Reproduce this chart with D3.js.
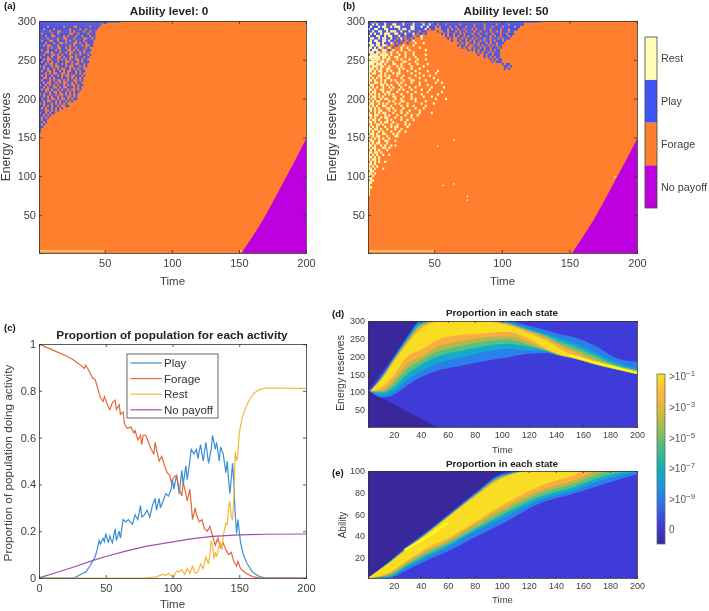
<!DOCTYPE html>
<html>
<head>
<meta charset="utf-8">
<script src="https://cdn.jsdelivr.net/npm/d3@7"></script>
<style>
  html, body { margin: 0; padding: 0; background: #fff; }
  svg { filter: blur(0.4px); }
  text { font-family: "Liberation Sans", Arial, sans-serif; }
</style>
</head>
<body>
<svg id="chart" width="709" height="611"></svg>
<script>
// ---------- data ----------
const actionNames = ["No payoff", "Forage", "Play", "Rest"];
const actionColors = ["#bd00dd", "#ff7f2e", "#3d55f2", "#fffdb8"];

const noPayoffEdge = [[152, 1], [160, 22], [168, 44], [176, 69], [184, 95], [192, 121], [200, 148]];
const restStrip = [1, 50, 2, 5];
const playStripA = [1, 62, 298, 300];
const playStripB = [1, 128, 298, 300];
const rareRestA = [[151, 3]];
const rareRestB = [[52, 138], [64, 146], [56, 87], [64, 89], [74, 73], [74, 68], [183, 98]];

// speckle, one string per energy row (3 units each, top = 300), one char per 1.5 time units
// # play, o rest, . forage
const speckleA = [
  "##################################",
  "###############################",
  "####.#######.####..######.####.",
  "##.####.#######.####.##.#####.",
  "#####.###..####.#.####.##.##",
  "#.####.##.#####..##.####.###",
  "###.##..####.#.###.##.###.##",
  "####.####.##..###.####..##.#",
  "#.###..##.###.#.##.###.####",
  "###.###.##..#.###..#.##.###",
  "##.#..###.#####.#.###.#..##",
  "####.#.##..##.#.##.####.#",
  "#.##.###.#.###..#.#.##.###",
  "###..#.###.##.#..###.#.##.",
  "##.###..#.#.###.##.#.###.#",
  ".###.#.##..#.##..#.###.##",
  "##.#..###.#.#.#.##..#.##.",
  "#.##.#.##.###..#.##.#.###",
  "###.#..#.##.#.##.#..##.#",
  ".#.###.#..###.#..###.#.#",
  "##.#.##.#.#..##.#.#.##.",
  "#.##..#.##.#.#..##.#.##",
  "###.#.#..##..#.###.#.#",
  "#.#.##.##.#.#..#..###.#",
  "##..#.#.###.##.#.#.#.#",
  "#.###.#.#..#.#.##..#.#",
  "##.#..##.#.#..##.#.##.",
  ".##.#.#.#.##.#.#..#.##",
  "##.#.##..#.#..###.#.#",
  "#.#..#.##.#.##.#..#.#",
  "###.#.#..#.##.#.#.##",
  ".#.##.##.#..#.#.#.#",
  "##.#.#.##.#.##..#.#",
  "#.##.#..#.#..#.#.##",
  "##.#..##.#.##.#.#.",
  ".#.###.#.#.#.#..",
  "##.#.#.##.#..##",
  "#.#.##.#.#.#",
  "###..#.#.#",
  ".##.#.##",
  "##.#.#",
  "#.#.#.",
  "#.##",
  "##.#",
  "#.#",
  "##",
  "#.",
  "#"
];
const speckleB = [
  "###o####o########o####o###o#####o############################################",
  "##o#o###o###oo###o####o####o##o###.###.######.######.####.#####.#####.#######",
  "#o###o#oo##o#ooo#####oo###o##o###.#.####.##.####.###.####.###.####.#####.##",
  "o##oo###oo#####o#oo##oo#####o#.##...###.#.##.##.###.#.###.##.####.###.####",
  "##o##oo##o#ooo##o###o####.###.....#..##.###.#.##.###.##.####.##.#.###.##.",
  "#o#o##o#ooo##oo###o###o#.##.#.......#.#.##.##.#.###.##.###.##.###.##.###",
  "o###oo##o#oo###o##.###..#.o...........#.##.#.##.#.##.##.####.#.##.###.#",
  "#oo##o#oo##o##.#o#.##.#...o............#.#..##.#.##.#.###.##.###.#.###",
  "#o#oo##oo#o##.##.#..#.o..................#..#.##.#.#.##.#.##.#.###.#",
  "oo##oo#o###o.#.##..#...o...o.................#.#..##.#.###.#.##.###",
  "#oo#oo#oo.#..##..o....o.....................#.##.#..##.#.##.#.#.##",
  "oo#o#oo.#.o.#...o..o.....o....................#.#..#.##.#.##.###.#",
  "o#ooo#.oo.#.o...o...o.......o....................#.#.#.##.##.#.##",
  "ooo#oo.oo..o..o...o...o..............................#.#.##.#.###",
  "#oooo.oooo.o...o..o...o.....o.........................#..#.##.###",
  "oooooo.oo.o..oo...o....o.................................#.#.#.##",
  "oooooo.o.oo...o.o...o...o...o...............................#.#.##",
  "ooooo.oo.o..o....oo....o.....................................#.###",
  "ooo.ooo.o...oo..o...o...o....o....................................#.##",
  "o.ooo.oo..o...o.o....o.....o.......................................##.#",
  "ooo.o.o..oo....o.o...o...o.........................................#.#",
  "oo.o.oo..o.o...o...o...o.....o....o",
  "o.oo..o.o...o.oo.....o...o.......o",
  "oo...oo.o.o...o..o.....o...o..o",
  "o.o.o.o..oo.....o...o....o......o",
  "oo.o..o.o..o.o...o...oo.....o.....o",
  "o..oo.o.o.....o.o....o...o.......o..o",
  ".oo...oo.o.o...o..o......o...o",
  "o.o.o..o..o.o...o...o..o.......o.....o",
  "oo.o..oo...o...o.o...o....o...o",
  "o.oo...o.oo...o....o...o.....o......o",
  ".o.o.o..o.o.o...o....o....o.......o",
  "o.oo.o.o....oo...o...o.....o...o",
  "oo.o..o.oo...o..o....o.o.........o....o",
  "o.o.oo....o.o...oo.....o....o",
  ".oo..o.o.o...o.o...o......o.....o",
  "o.o.o..oo..o....o..o..o.....o",
  "oo.o.o...oo.o....o.....o...o",
  ".o.o.oo...o..o..o...o....o",
  "o..o.o.oo...o...o..o.....o.....o",
  "oo.oo...o.o...o...o..o..o",
  ".o.o..o.oo...o..o....o",
  "o.oo.o...o.o....o..o..o",
  "oo.o..o.oo..o.....o",
  ".o..oo.o...o..o...o.o",
  "o.o.o...o..o.oo....o",
  "oo.oo.o..o...o..o",
  "o.o..o.o...o...o..o",
  ".oo.o..oo...o.o",
  "o.o.oo...o...oo",
  "oo.o.o.o..o...",
  ".oo..o..oo...o",
  "o.o.oo...o",
  "oo.o..o.o..o.o",
  "o.oo...oo.o",
  ".o.o.o...o",
  "oo.oo.o..",
  "o.o.o..o..o",
  "oo.o.o",
  "o.oo.o",
  ".o.o.o..o",
  "oo.o..",
  "o.o.o",
  "oo.o...o",
  ".oo.",
  "oo.o",
  "o.o.",
  "oo.",
  ".oo",
  "oo",
  "o.",
  "oo",
  "o",
  "o",
  "o"
];

// panel c, [time, proportion]
const playSeries = [[0,0],[25,0],[28,.005],[30,.012],[33,.02],[35,.025],[38,.05],[40,.07],[42,.09],[44,.13],[45,.16],[46,.145],[48,.17],[49,.155],[50,.19],[52,.15],[53,.18],[55,.15],[57,.21],[58,.16],[60,.2],[61,.17],[63,.25],[65,.24],[67,.25],[70,.23],[72,.27],[74,.25],[76,.31],[77,.26],[79,.27],[81,.29],[83,.26],[85,.31],[87,.34],[88,.29],[90,.34],[91,.3],[93,.33],[95,.36],[97,.35],[99,.38],[100,.42],[101,.38],[103,.44],[105,.36],[107,.46],[108,.4],[110,.48],[111,.42],[113,.5],[114,.55],[116,.53],[118,.55],[119,.51],[121,.57],[123,.5],[125,.58],[127,.49],[129,.55],[130,.61],[132,.55],[133,.58],[135,.5],[136,.56],[138,.53],[140,.45],[141,.5],[142,.42],[143,.36],[145,.49],[146,.4],[147,.27],[148,.19],[149,.25],[150,.2],[151,.15],[153,.1],[156,.06],[160,.025],[165,.006],[170,0],[200,0]];
const forageSeries = [[0,1],[10,.975],[20,.95],[25,.935],[30,.915],[34,.895],[35,.91],[38,.88],[40,.855],[42,.85],[44,.81],[46,.77],[48,.755],[49,.775],[50,.76],[52,.73],[53,.72],[55,.75],[57,.76],[58,.72],[60,.74],[61,.7],[63,.71],[64,.66],[66,.64],[69,.645],[71,.62],[72,.63],[74,.59],[75,.6],[76,.61],[77,.57],[78,.61],[80,.61],[82,.58],[84,.55],[86,.53],[87,.58],[88,.55],[90,.5],[92,.52],[94,.48],[96,.45],[98,.44],[99,.41],[101,.43],[103,.44],[105,.38],[107,.35],[108,.41],[110,.36],[111,.33],[113,.38],[115,.25],[117,.3],[118,.27],[120,.24],[122,.25],[124,.21],[126,.2],[128,.22],[130,.18],[132,.14],[134,.17],[136,.13],[138,.15],[140,.12],[142,.1],[144,.11],[146,.07],[148,.05],[149,.07],[151,.04],[155,.02],[160,.006],[165,0],[200,0]];
const restSeries = [[0,0],[75,0],[80,.001],[88,.005],[90,.01],[93,.015],[95,.01],[97,.02],[99,.01],[101,.005],[103,.03],[105,.025],[107,.035],[109,.015],[111,.04],[113,.02],[115,.05],[117,.02],[119,.025],[121,.06],[123,.04],[125,.09],[127,.06],[128,.1],[129,.16],[130,.14],[131,.08],[132,.11],[133,.09],[135,.14],[136,.15],[137,.12],[138,.18],[140,.235],[141,.23],[142,.3],[143,.33],[144,.26],[145,.25],[146,.35],[147,.54],[148,.5],[149,.53],[150,.62],[152,.68],[155,.73],[158,.765],[161,.79],[165,.805],[170,.812],[200,.81]];
const noPayoffSeries = [[0,0],[10,.018],[25,.045],[40,.074],[50,.092],[65,.115],[80,.135],[100,.154],[115,.168],[130,.178],[150,.184],[170,.187],[200,.188]];
const legendNames = ["Play", "Forage", "Rest", "No payoff"];
const lineColors = ["#3a8fd4", "#e2683c", "#f3b83c", "#9b50b2"];

// panel d, energy bounds of each colour band at dTimes
const dTimes = [3, 12, 20, 30, 40, 52, 66, 84, 104, 118, 133, 141, 153, 168, 185, 200];
const dBase = [[1, 103], [39, 300], [200, 300], [200, 1], [52, 1]];
const dBlueUpper = [105, 150, 197, 255, 300, 300, 300, 300, 300, 288, 274, 265, 255, 232, 195, 185];
const dBlueLower = [100, 84, 92, 118, 141, 160, 171, 185, 197, 207, 210, 203, 194, 178, 162, 150];
const dTealUpper = [105, 148, 194, 250, 296, 300, 300, 300, 296, 281, 264, 253, 238, 213, 182, 165];
const dTealLower = [100, 91, 101, 133, 157, 180, 194, 210, 222, 218, 214, 204, 195, 179, 163, 150];
const dGreenUpper = [105, 146, 192, 246, 291, 300, 300, 300, 294, 277, 259, 246, 229, 204, 176, 162];
const dGreenLower = [101, 98, 113, 150, 175, 199, 213, 227, 236, 229, 216, 205, 195, 179, 163, 151];
const dOliveUpper = [104, 144, 190, 243, 287, 300, 300, 300, 292, 275, 255, 239, 220, 197, 173, 160];
const dOliveLower = [102, 101, 124, 165, 188, 213, 227, 241, 248, 236, 217, 206, 195, 179, 164, 151];
const dOrangeUpper = [104, 142, 188, 240, 284, 300, 300, 300, 292, 274, 250, 235, 213, 190, 171, 158];
const dOrangeLower = [102, 105, 134, 178, 199, 227, 241, 253, 257, 244, 219, 207, 195, 179, 164, 151];
const dYellowUpper = [103, 139, 183, 236, 276, 297, 300, 300, 288, 269, 244, 227, 201, 186, 170, 156];
const dYellowLower = [103, 115, 147, 199, 218, 246, 259, 264, 270, 254, 222, 208, 196, 180, 164, 151];
const dStreak = [[150, 204], [168, 184], [185, 168], [200, 153]];

// panel e, ability bounds of each colour band at eTimes
const eTimes = [1, 17, 29, 44, 59, 79, 100, 128, 153, 178, 200];
const eBase = [[1, 1], [17, 17], [29, 30], [44, 44], [59, 59], [79, 79], [89, 88], [100, 98], [106, 100], [200, 100], [200, 1]];
const eBlueUpper = [1, 16, 29, 43, 58, 78, 97, 101, 101, 101, 101];
const eBlueLower = [1, 1, 8, 17, 25, 38, 51, 70, 79, 89, 97];
const eTealUpper = [1, 16, 28, 42, 57, 77, 96, 101, 101, 101, 101];
const eTealLower = [1, 2, 10, 20, 29, 43, 56, 73, 82, 93, 99];
const eGreenUpper = [1, 16, 28, 42, 57, 77, 95, 101, 101, 101, 101];
const eGreenLower = [1, 3, 12, 22, 31, 45, 59, 76, 85, 96, 100];
const eOliveUpper = [1, 15, 28, 42, 57, 76, 95, 101, 101, 101, 101];
const eOliveLower = [1, 4, 13, 24, 33, 47, 62, 79, 88, 99, 101];
const eOrangeUpper = [1, 15, 27, 41, 56, 76, 94, 101, 101, 101, 101];
const eOrangeLower = [1, 5, 15, 26, 35, 50, 65, 82, 91, 102, 102];
const eYellowUpper = [1, 15, 27, 41, 56, 75, 93, 101, 101, 101, 101];
const eYellowLower = [1, 6, 16, 28, 37, 52, 68, 86, 96, 110, 110];
const eStreak = [[28, 27], [45, 39], [60, 52]];

const bandColors = ["#2b7fea", "#14aacb", "#55c183", "#b4b84a", "#f9ae3f", "#f9dd22"];
const parulaStops = ["#39289b", "#3f3bd8", "#2f6cea", "#1b96df", "#10b0b8", "#3dbd8c", "#8fbf55", "#d8b93c", "#fbb83a", "#f9e01f"];
const powerLabels = ["-1", "-3", "-5", "-7", "-9"];

// ---------- page layout ----------
const svg = d3.select("#chart");
const inkGray = "#404040";
let clipCount = 0;

function makeScales(box, xDomain, yDomain) {
  return {
    x: d3.scaleLinear().domain(xDomain).range([box.left, box.right]),
    y: d3.scaleLinear().domain(yDomain).range([box.bottom, box.top])
  };
}

function clipFor(box) {
  const id = "clip" + (clipCount++);
  svg.append("clipPath").attr("id", id).append("rect")
    .attr("x", box.left).attr("y", box.top)
    .attr("width", box.right - box.left).attr("height", box.bottom - box.top);
  return svg.append("g").attr("clip-path", `url(#${id})`);
}

// Matlab style box: ticks point inward on all four sides, labels left and bottom only
function drawBox(box, s, xTicks, yTicks, fontSize, tick, yFormat) {
  const bottom = d3.axisBottom(s.x).tickValues(xTicks).tickSize(-tick).tickPadding(fontSize * 0.55).tickFormat(d => d);
  const top = d3.axisTop(s.x).tickValues(xTicks).tickSize(-tick).tickFormat("");
  const left = d3.axisLeft(s.y).tickValues(yTicks).tickSize(-tick).tickPadding(3).tickFormat(yFormat || (d => d));
  const right = d3.axisRight(s.y).tickValues(yTicks).tickSize(-tick).tickFormat("");
  const parts = [
    svg.append("g").attr("transform", `translate(0,${box.bottom})`).call(bottom),
    svg.append("g").attr("transform", `translate(0,${box.top})`).call(top),
    svg.append("g").attr("transform", `translate(${box.left},0)`).call(left),
    svg.append("g").attr("transform", `translate(${box.right},0)`).call(right)
  ];
  parts.forEach(g => {
    g.selectAll("path,line").attr("stroke", "#333").attr("stroke-width", 0.8);
    g.selectAll("text").attr("fill", inkGray).style("font-size", fontSize + "px").style("font-family", '"Liberation Sans", Arial, sans-serif');
  });
}

function label(txt, x, y, size, opts) {
  opts = opts || {};
  const t = svg.append("text").attr("x", x).attr("y", y).text(txt)
    .style("font-size", size + "px").attr("fill", opts.fill || inkGray)
    .attr("text-anchor", opts.anchor || "middle")
    .attr("font-weight", opts.bold ? "bold" : "normal");
  if (opts.rotate) t.attr("transform", `rotate(-90 ${x} ${y})`);
  return t;
}

// ---------- panels a and b ----------
function drawPolicy(box, speckle, playStrip, rareRest) {
  const s = makeScales(box, [1, 200], [1, 300]);
  const g = clipFor(box);
  const color = d3.scaleOrdinal().domain(actionNames).range(actionColors);
  const stripRect = (st, fill) => g.append("rect")
    .attr("x", s.x(st[0])).attr("width", s.x(st[1]) - s.x(st[0]))
    .attr("y", s.y(st[3])).attr("height", s.y(st[2]) - s.y(st[3])).attr("fill", fill);

  g.append("rect").attr("x", box.left).attr("y", box.top)
    .attr("width", box.right - box.left).attr("height", box.bottom - box.top).attr("fill", color("Forage"));

  speckle.forEach((row, r) => {
    row.split("").forEach((ch, c) => {
      if (ch === ".") return;
      const t = 1 + c * 1.5, e = 300 - r * 3;
      g.append("rect").attr("x", s.x(t)).attr("y", s.y(e))
        .attr("width", s.x(t + 1.5) - s.x(t)).attr("height", s.y(e - 3) - s.y(e))
        .attr("fill", ch === "#" ? color("Play") : color("Rest"));
    });
  });

  stripRect(playStrip, color("Play"));
  stripRect(restStrip, "#ffb45e");
  rareRest.forEach(d => stripRect([d[0], d[0] + 1, d[1], d[1] + 2], color("Rest")));

  const edge = d3.area().x(d => s.x(d[0])).y0(s.y(1)).y1(d => s.y(d[1]));
  g.append("path").datum(noPayoffEdge).attr("d", edge).attr("fill", color("No payoff"));

  drawBox(box, s, [50, 100, 150, 200], [50, 100, 150, 200, 250, 300], 11, 3);
}

const boxA = { left: 39, right: 306, top: 21, bottom: 253 };
const boxB = { left: 368, right: 637, top: 21, bottom: 253 };
drawPolicy(boxA, speckleA, playStripA, rareRestA);
drawPolicy(boxB, speckleB, playStripB, rareRestB);

label("Ability level: 0", 169, 15, 11.7, { fill: "#222", bold: true });
label("Ability level: 50", 506, 15, 11.7, { fill: "#222", bold: true });
label("Time", 172.5, 285, 11.5);
label("Time", 502.5, 285, 11.5);
label("Energy reserves", 10, 137, 12.2, { rotate: true });
label("Energy reserves", 336, 137, 12.2, { rotate: true });
label("(a)", 4, 9, 9.5, { fill: "#111", bold: true, anchor: "start" });
label("(b)", 343, 9, 9.5, { fill: "#111", bold: true, anchor: "start" });

// category colour bar
const catBox = { left: 645, right: 657, top: 37, bottom: 208 };
const catScale = d3.scaleBand().domain(actionNames).range([catBox.bottom, catBox.top]);
svg.append("g").selectAll("rect").data(actionNames).enter().append("rect")
  .attr("x", catBox.left).attr("width", catBox.right - catBox.left)
  .attr("y", d => catScale(d)).attr("height", catScale.bandwidth())
  .attr("fill", (d, i) => actionColors[i]);
svg.append("rect").attr("x", catBox.left).attr("y", catBox.top)
  .attr("width", catBox.right - catBox.left).attr("height", catBox.bottom - catBox.top)
  .attr("fill", "none").attr("stroke", "#444").attr("stroke-width", 0.8);
actionNames.forEach(d => label(d, 661, catScale(d) + catScale.bandwidth() / 2 + 4, 10.8, { anchor: "start" }));

// ---------- panel c ----------
const boxC = { left: 39, right: 306, top: 344, bottom: 578 };
const scaleC = makeScales(boxC, [0, 200], [0, 1]);
const lineC = d3.line().x(d => scaleC.x(d[0])).y(d => scaleC.y(d[1]));
const groupC = clipFor(boxC);
[playSeries, forageSeries, restSeries, noPayoffSeries].forEach((series, i) => {
  groupC.append("path").datum(series).attr("d", lineC).attr("fill", "none")
    .attr("stroke", lineColors[i]).attr("stroke-width", 1.2);
});
drawBox(boxC, scaleC, [0, 50, 100, 150, 200], [0, 0.2, 0.4, 0.6, 0.8, 1], 11, 3);
label("Proportion of population for each activity", 172, 339, 11.8, { fill: "#222", bold: true });
label("Time", 172.5, 608, 11.5);
label("Proportion of population doing activity", 12, 463, 11.8, { rotate: true });
label("(c)", 4, 331, 9.5, { fill: "#111", bold: true, anchor: "start" });

const legendBox = svg.append("g");
legendBox.append("rect").attr("x", 127).attr("y", 354).attr("width", 91).attr("height", 64)
  .attr("fill", "#fff").attr("stroke", "#444").attr("stroke-width", 0.8);
legendNames.forEach((name, i) => {
  const y = 363 + i * 15.6;
  legendBox.append("line").attr("x1", 130.5).attr("x2", 161.7).attr("y1", y).attr("y2", y)
    .attr("stroke", lineColors[i]).attr("stroke-width", 1.2);
  legendBox.append("text").attr("x", 164).attr("y", y + 4).text(name)
    .attr("fill", "#333").style("font-size", "11.5px");
});

// ---------- panels d and e ----------
function drawStates(box, yMax, yTicks, base, times, bands, streak) {
  const s = makeScales(box, [1, 200], [1, yMax]);
  const g = clipFor(box);
  g.append("rect").attr("x", box.left).attr("y", box.top)
    .attr("width", box.right - box.left).attr("height", box.bottom - box.top).attr("fill", parulaStops[0]);
  const edge = d3.line().x(d => s.x(d[0])).y(d => s.y(d[1]));
  g.append("path").datum(base).attr("d", edge).attr("fill", parulaStops[1]);

  bands.forEach((band, i) => {
    const area = d3.area().curve(d3.curveMonotoneX)
      .x((d, j) => s.x(times[j])).y0((d, j) => s.y(band[1][j])).y1((d, j) => s.y(band[0][j]));
    g.append("path").datum(times).attr("d", area).attr("fill", bandColors[i]);
  });
  g.append("path").datum(streak).attr("d", edge).attr("fill", "none")
    .attr("stroke", "#ffff18").attr("stroke-width", 2);

  drawBox(box, s, d3.range(20, 201, 20), yTicks, 9, 2);
}

const boxD = { left: 368, right: 637, top: 321, bottom: 427 };
const boxE = { left: 368, right: 637, top: 471, bottom: 578 };
drawStates(boxD, 300, [50, 100, 150, 200, 250, 300], dBase, dTimes, [
  [dBlueUpper, dBlueLower], [dTealUpper, dTealLower], [dGreenUpper, dGreenLower],
  [dOliveUpper, dOliveLower], [dOrangeUpper, dOrangeLower], [dYellowUpper, dYellowLower]
], dStreak);
drawStates(boxE, 100, [20, 40, 60, 80, 100], eBase, eTimes, [
  [eBlueUpper, eBlueLower], [eTealUpper, eTealLower], [eGreenUpper, eGreenLower],
  [eOliveUpper, eOliveLower], [eOrangeUpper, eOrangeLower], [eYellowUpper, eYellowLower]
], eStreak);

label("Proportion in each state", 502, 316, 9.8, { fill: "#222", bold: true });
label("Proportion in each state", 502, 467, 9.8, { fill: "#222", bold: true });
label("Time", 502.5, 453, 9.5);
label("Time", 502.5, 603, 9.5);
label("Energy reserves", 344, 373, 10.4, { rotate: true });
label("Ability", 346, 525, 10, { rotate: true });
label("(d)", 332, 317, 9.5, { fill: "#111", bold: true, anchor: "start" });
label("(e)", 332, 476, 9.5, { fill: "#111", bold: true, anchor: "start" });

// continuous colour bar
const heatBar = { left: 657, right: 665, top: 374, bottom: 544 };
const grad = svg.append("linearGradient").attr("id", "parula")
  .attr("x1", 0).attr("x2", 0).attr("y1", 1).attr("y2", 0);
parulaStops.forEach((c, i) => grad.append("stop")
  .attr("offset", i / (parulaStops.length - 1)).attr("stop-color", c));
svg.append("rect").attr("x", heatBar.left).attr("y", heatBar.top)
  .attr("width", heatBar.right - heatBar.left).attr("height", heatBar.bottom - heatBar.top)
  .attr("fill", "url(#parula)").attr("stroke", "#666").attr("stroke-width", 0.8);

const heatLabelY = d3.scalePoint().domain(powerLabels).range([380, 503]);
powerLabels.forEach(p => {
  const t = label(">10", 669, heatLabelY(p), 10, { anchor: "start", fill: "#555" });
  t.append("tspan").attr("dy", -4).style("font-size", "8px").text(p.replace("-", "\u2212"));
});
label("0", 669, 533, 10, { anchor: "start", fill: "#555" });
</script>
</body>
</html>
